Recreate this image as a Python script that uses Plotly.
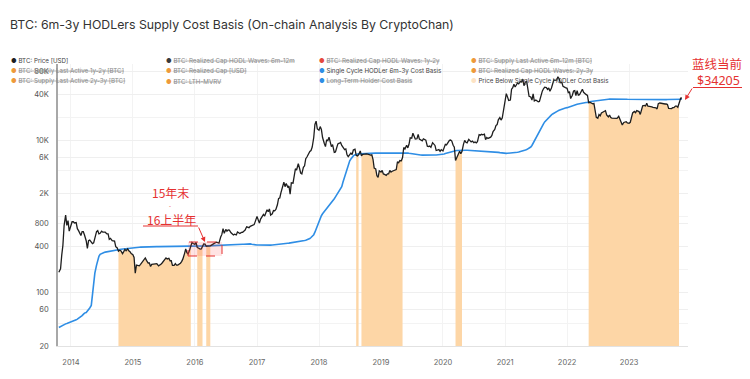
import numpy as np
import pandas as pd
import plotly.graph_objects as go

price_2013 = [185, 205, 310, 420, 760, 1040, 760, 880, 640]
price_2014 = [770, 850, 850, 820, 830, 690, 650, 610, 560, 630, 630, 570,
              480, 380, 480, 490, 450, 440, 450, 520, 630, 650, 590, 600,
              640, 620, 620, 620, 590, 590, 500, 515, 480, 475, 475, 400,
              385, 350, 360, 355, 325, 345, 370, 355, 375, 355, 345, 325]
price_2015 = [315, 290, 180, 230, 225, 225, 235, 245, 260, 275, 285, 265,
              245, 245, 220, 235, 235, 240, 237, 240, 225, 228, 235, 245,
              258, 268, 285, 277, 282, 262, 262, 228, 228, 240, 230, 230,
              237, 243, 255, 275, 325, 375, 335, 322, 362, 395, 455, 440]
price_2016 = [430, 455, 390, 385, 372, 375, 402, 435, 432, 405, 408, 408,
              410, 420, 430, 450, 452, 460, 455, 445, 536, 580, 690, 600,
              675, 640, 665, 660, 610, 590, 570, 585, 572, 625, 608, 595,
              615, 618, 640, 655, 730, 710, 710, 740, 755, 770, 780, 860]
price_2017 = [1000, 900, 820, 920, 990, 1060, 1010, 1120, 1220, 1150, 1250, 1040,
              1080, 1190, 1180, 1230, 1420, 1720, 1740, 2050, 2400, 2800, 2450, 2700,
              2430, 2500, 1950, 2750, 2720, 3400, 4200, 4050, 4900, 4300, 3700, 3600,
              4400, 4600, 5700, 6000, 6700, 7100, 7300, 8100, 10800, 16000, 17700, 14000]
price_2018 = [13500, 15000, 13800, 10800, 9100, 8200, 10100, 9800, 10900, 9400, 8200, 8700,
              6900, 7000, 8000, 8900, 9100, 9300, 8500, 8000, 7500, 7650, 6400, 6050,
              6350, 6750, 6450, 7400, 7600, 6300, 6200, 6400, 7200, 6200, 6500, 6550,
              6550, 6600, 6550, 6450, 6350, 6400, 5600, 4300, 4200, 3400, 3250, 3950]
price_2019 = [3800, 4000, 3600, 3550, 3450, 3600, 3600, 4000, 3800, 3900, 3950, 4000,
              4100, 5200, 5050, 5400, 5350, 5900, 8000, 7650, 8550, 7900, 8800, 10700,
              10600, 12300, 10800, 10300, 10400, 11900, 10300, 10100, 9750, 10400, 10300, 10000,
              8300, 8200, 8350, 8050, 9250, 8800, 8500, 7300, 7400, 7500, 7100, 7500]
price_2020 = [7200, 8050, 8800, 8650, 9400, 9900, 10000, 9700, 8550, 8050, 5400, 5850,
              6650, 7150, 6650, 7100, 8850, 9900, 9350, 9200, 10200, 9750, 9450, 9700,
              9250, 9450, 9200, 9550, 11800, 11600, 11900, 11700, 11950, 10100, 10800, 10500,
              10600, 10900, 11500, 12900, 13750, 15500, 15950, 18400, 19700, 18300, 19400, 23800]
price_2021 = [29400, 40600, 36800, 33000, 33500, 46400, 48600, 54000, 49600, 52300, 56000, 54500,
              58700, 58000, 63100, 51700, 57800, 58800, 46700, 37500, 36700, 33400, 40200, 32500,
              33500, 32800, 31800, 32100, 39900, 43800, 47000, 49300, 48800, 46100, 48100, 43600,
              48200, 53900, 61500, 60700, 61300, 67500, 63600, 56300, 57000, 50600, 48900, 48600]
price_2022 = [47700, 41800, 43100, 35000, 38700, 44000, 44500, 38200, 44400, 38700, 39300, 42400,
              46300, 42300, 40500, 39700, 38500, 31000, 31300, 30300, 29800, 30200, 22500, 19900,
              19300, 21600, 20800, 22600, 23300, 23800, 24300, 21400, 20100, 21300, 19700, 19400,
              19300, 19400, 19100, 19200, 20500, 18500, 16900, 15800, 17000, 17200, 17400, 16800]
price_2023 = [16600, 17100, 20900, 22700, 23700, 22900, 24300, 24200, 23600, 21700, 24700, 28200,
              28500, 28000, 30300, 27800, 27600, 27700, 27200, 26800, 26800, 26500, 25600, 30000,
              30600, 30300, 30300, 29800, 29700, 29800, 29200, 26000, 25800, 25900, 26600, 26600,
              27900, 27900, 26900, 30000, 35400, 35600]

hodler_2013 = [35, 36, 37, 38, 38.5, 39, 39.5, 40, 40.5]
hodler_2014 = [41, 41.5, 42, 43, 44, 45, 46, 47, 48, 50, 52, 54,
               55, 57, 60, 63, 68, 95, 130, 180, 230, 270, 300, 318,
               328, 333, 337, 340, 344, 347, 350, 352, 355, 357, 359, 361,
               363, 366, 368, 370, 373, 375, 377, 379, 381, 383, 385, 387]
hodler_2015 = [389, 390, 391, 392, 393, 394, 395, 396, 396, 397, 397, 398,
               398, 399, 399, 400, 400, 400, 401, 401, 401, 401, 402, 402,
               402, 402, 402, 402, 403, 403, 403, 403, 403, 403, 403, 403,
               403, 403, 403, 404, 404, 404, 404, 404, 404, 404, 404, 404]
hodler_2016 = [404, 405, 405, 406, 406, 407, 407, 408, 409, 410, 411, 412,
               413, 414, 414, 415, 416, 417, 418, 419, 420, 421, 422, 423,
               424, 425, 426, 427, 427, 428, 428, 429, 429, 430, 430, 431,
               431, 432, 432, 433, 434, 436, 438, 436, 430, 426, 424, 423]
hodler_2017 = [422, 421, 420, 420, 419, 419, 418, 418, 418, 418, 419, 420,
               421, 422, 424, 426, 428, 430, 432, 434, 436, 438, 440, 442,
               444, 446, 448, 451, 454, 457, 460, 463, 466, 469, 472, 475,
               478, 482, 486, 492, 500, 512, 528, 548, 575, 620, 680, 760]
hodler_2018 = [900, 960, 1020, 1080, 1150, 1200, 1250, 1310, 1380, 1450, 1520, 1600,
               1700, 1800, 1900, 2000, 2150, 2250, 2450, 2800, 3300, 3800, 4400, 4900,
               5350, 5650, 5950, 6200, 6400, 6520, 6560, 6600, 6630, 6650, 6670, 6690,
               6700, 6710, 6720, 6730, 6740, 6740, 6750, 6750, 6750, 6750, 6750, 6750]
hodler_2019 = [6760, 6770, 6780, 6790, 6800, 6810, 6820, 6830, 6840, 6850, 6860, 6870,
               6880, 6890, 6900, 6900, 6900, 6900, 6890, 6860, 6820, 6770, 6720, 6670,
               6620, 6570, 6520, 6480, 6440, 6410, 6380, 6360, 6340, 6330, 6320, 6310,
               6300, 6300, 6300, 6310, 6320, 6340, 6360, 6380, 6400, 6430, 6460, 6490]
hodler_2020 = [6520, 6580, 6660, 6740, 6820, 6900, 6980, 7050, 7120, 7180, 7240, 7290,
               7330, 7360, 7380, 7400, 7400, 7390, 7370, 7350, 7330, 7310, 7290, 7270,
               7260, 7250, 7240, 7230, 7220, 7210, 7200, 7190, 7180, 7170, 7160, 7150,
               7140, 7120, 7100, 7080, 7050, 7000, 6950, 6900, 6850, 6800, 6760, 6720]
hodler_2021 = [6700, 6700, 6710, 6720, 6740, 6760, 6780, 6800, 6830, 6870, 6920, 6980,
               7050, 7130, 7200, 7260, 7400, 7500, 7650, 7850, 8100, 8500, 9100, 9900,
               10800, 11700, 12600, 13500, 14500, 15400, 16300, 17300, 18300, 19200, 20000, 20700,
               21400, 22000, 22600, 23100, 23600, 24100, 24600, 25000, 25400, 25700, 26000, 26300]
hodler_2022 = [26600, 27000, 27400, 27800, 28200, 28500, 28800, 29100, 29400, 29700, 30000, 30200,
               30400, 30600, 30800, 31000, 31200, 31600, 31800, 32000, 32200, 32400, 32600, 32800,
               33000, 33200, 33400, 33600, 33800, 33950, 34100, 34200, 34300, 34400, 34450, 34500,
               34550, 34600, 34600, 34600, 34600, 34600, 34550, 34500, 34450, 34400, 34350, 34300]
hodler_2023 = [34250, 34200, 34150, 34100, 34050, 34000, 33950, 33900, 33850, 33800, 33780, 33760,
               33750, 33740, 33730, 33720, 33720, 33720, 33730, 33740, 33750, 33770, 33790, 33810,
               33830, 33850, 33870, 33890, 33910, 33930, 33950, 33970, 33990, 34010, 34030, 34050,
               34070, 34090, 34110, 34150, 34180, 34205]

y_tick_vals = [20, 60, 100, 400, 800, 2000, 6000, 10000, 40000, 80000]
y_tick_text = ['20', '60', '100', '400', '800', '2K', '6K', '10K', '40K', '80K']
y_minor_vals = [40, 200, 1000, 4000, 20000]

legend_names = [
    "BTC: Price [USD]", "BTC: Realized Cap HODL Waves: 6m-12m",
    "BTC: Realized Cap HODL Waves: 1y-2y", "BTC: Supply Last Active 6m-12m [BTC]",
    "BTC: Supply Last Active 1y-2y [BTC]", "BTC: Realized Cap [USD]",
    "Single Cycle HODLer 6m-3y Cost Basis", "BTC: Realized Cap HODL Waves: 2y-3y",
    "BTC: Supply Last Active 2y-3y [BTC]", "BTC: LTH-MVRV",
    "Long-Term Holder Cost Basis", "Price Below Single Cycle HODLer Cost Basis",
]
legend_active = [True, False, False, False, False, False, True, False, False, False, False, True]
legend_colors = ['#1e1e1e', '#3a3a3a', '#e5493c', '#ee9a3a', '#ee9a3a', '#ee9a3a',
                 '#2f8ee5', '#ee9a3a', '#ee9a3a', '#ee9a3a', '#2f8ee5', '#fde3c4']

# ---------------- assemble ----------------
price = (price_2013 + price_2014 + price_2015 + price_2016 + price_2017 + price_2018 +
         price_2019 + price_2020 + price_2021 + price_2022 + price_2023)
hodler = (hodler_2013 + hodler_2014 + hodler_2015 + hodler_2016 + hodler_2017 + hodler_2018 +
          hodler_2019 + hodler_2020 + hodler_2021 + hodler_2022 + hodler_2023)

dates = []
y, m = 2013, 10
while (y, m) <= (2023, 11):
    for d in (1, 8, 15, 22):
        t = pd.Timestamp(y, m, d)
        if pd.Timestamp('2013-10-22') <= t <= pd.Timestamp('2023-11-08'):
            dates.append(t)
    m += 1
    if m > 12:
        y, m = y + 1, 1

assert len(dates) == len(price) == len(hodler), (len(dates), len(price), len(hodler))

# contiguous runs where price is below the HODLer cost basis
runs = []
cur = []
for t, p, h in zip(dates, price, hodler):
    if p < h:
        cur.append((t, p))
    elif cur:
        runs.append(cur)
        cur = []
if cur:
    runs.append(cur)

# ---------------- geometry helpers (pixel -> paper) ----------------
W, H = 750, 379
L, R, T, B = 58, 688, 64, 346


def px(x):
    return (x - L) / (R - L)


def py(yy):
    return (B - yy) / (B - T)


ppd = 76.3  # pixels per decade
y_lo = np.log10(20)
y_hi = y_lo + (B - T) / ppd

RED = '#e53030'
FILL = '#fdd6a6'

fig = go.Figure()
for run in runs:
    fig.add_trace(go.Scatter(x=[r[0] for r in run], y=[r[1] for r in run], mode='lines',
                             line=dict(width=0, color=FILL), fill='tozeroy', fillcolor=FILL,
                             name=legend_names[11], hoverinfo='skip'))
fig.add_trace(go.Scatter(x=dates, y=hodler, mode='lines', line=dict(color='#2f8ee5', width=1.6),
                         name=legend_names[6]))
fig.add_trace(go.Scatter(x=dates, y=price, mode='lines', line=dict(color='#1e1e1e', width=1.3),
                         name=legend_names[0]))

annotations = []
shapes = []

# legend (4 columns x 3 rows)
col_x = [10, 165, 318, 470]
row_y = [61, 71, 81]
for i, (name, act, col) in enumerate(zip(legend_names, legend_active, legend_colors)):
    r, c = divmod(i, 4)
    label = name if act else f"<s>{name}</s>"
    tcol = '#444' if act else '#8a8a8a'
    annotations.append(dict(
        x=px(col_x[c]), y=py(row_y[r]), xref='paper', yref='paper', xanchor='left', yanchor='middle',
        showarrow=False, align='left', borderpad=0,
        text=f"<span style='color:{col}'>●</span> <span style='color:{tcol}'>{label}</span>",
        font=dict(family='Inter, Roboto, sans-serif', size=6.2, color=tcol)))

# left callout
cjk = 'Noto Sans CJK SC'
annotations += [
    dict(x=px(170), y=py(192), xref='paper', yref='paper', text='15年末', showarrow=False,
         borderpad=0, font=dict(family=cjk, size=12, color=RED),
         xanchor='center', yanchor='middle'),
    dict(x=px(170), y=py(205.5), xref='paper', yref='paper', text='-', showarrow=False,
         borderpad=0, font=dict(family='Noto Sans, sans-serif', size=6, color=RED),
         xanchor='center', yanchor='middle'),
    dict(x=px(171), y=py(219), xref='paper', yref='paper', text='16上半年', showarrow=False,
         borderpad=0, font=dict(family=cjk, size=12, color=RED),
         xanchor='center', yanchor='middle'),
    dict(x=px(205), y=py(242), xref='paper', yref='paper', text='', showarrow=True,
         ax=-7, ay=-16, arrowhead=2, arrowsize=1, arrowwidth=1, arrowcolor=RED),
]
shapes += [
    dict(type='line', xref='paper', yref='paper', x0=px(143), x1=px(198), y0=py(226), y1=py(226),
         line=dict(color=RED, width=1)),
    dict(type='rect', xref='paper', yref='paper', x0=px(188), x1=px(222), y0=py(256), y1=py(242),
         line=dict(color=RED, width=1, dash='dash'), fillcolor='rgba(255,70,70,0.15)', layer='above'),
]

# right callout
annotations += [
    dict(x=px(717), y=py(63), xref='paper', yref='paper', text='蓝线当前', showarrow=False,
         borderpad=0, height=16, font=dict(family=cjk, size=12.5, color=RED),
         xanchor='center', yanchor='middle'),
    dict(x=px(718), y=py(80), xref='paper', yref='paper', text=f"${hodler[-1]}", showarrow=False,
         borderpad=0, height=16, font=dict(family='Noto Sans, sans-serif', size=12.5, color=RED),
         xanchor='center', yanchor='middle'),
    dict(x=px(685), y=py(100), xref='paper', yref='paper', text='', showarrow=True,
         ax=8, ay=-13, arrowhead=2, arrowsize=1, arrowwidth=1, arrowcolor=RED),
]
shapes += [
    dict(type='line', xref='paper', yref='paper', x0=px(693), x1=px(742), y0=py(87.5), y1=py(87.5),
         line=dict(color=RED, width=1)),
]

fig.update_layout(
    width=W, height=H,
    margin=dict(l=L, r=W - R, t=T, b=H - B, pad=0),
    paper_bgcolor='white', plot_bgcolor='white',
    showlegend=False, hovermode=False,
    title=dict(text='BTC: 6m-3y HODLers Supply Cost Basis (On-chain Analysis By CryptoChan)',
               x=10 / W, xanchor='left', xref='container', y=1 - 25 / H, yanchor='middle', yref='container',
               font=dict(family='Inter, Roboto, sans-serif', size=12.3, color='#333')),
    annotations=annotations, shapes=shapes,
    xaxis=dict(type='date', range=['2013-10-17', '2023-12-14'], tick0='2014-01-01', dtick='M12',
               tickformat='%Y', showgrid=True, gridcolor='#f3f3f3', gridwidth=1,
               showline=True, linecolor='#e2e2e2', linewidth=1, zeroline=False,
               ticks='outside', ticklen=9, tickcolor='rgba(0,0,0,0)',
               tickfont=dict(family='Inter, Roboto, sans-serif', size=7.5, color='#666')),
    yaxis=dict(type='log', range=[y_lo, y_hi], tickmode='array', tickvals=y_tick_vals,
               ticktext=y_tick_text, showgrid=True, gridcolor='#efefef', gridwidth=1,
               showline=True, linecolor='#a8a8a8', linewidth=1.5, zeroline=False,
               ticks='outside', ticklen=6, tickcolor='rgba(0,0,0,0)',
               tickfont=dict(family='Inter, Roboto, sans-serif', size=7.5, color='#555'),
               minor=dict(tickmode='array', tickvals=y_minor_vals, showgrid=True,
                          gridcolor='#f3f3f3', ticks='')),
)
fig.update_xaxes(fixedrange=True)
fig.update_yaxes(fixedrange=True)

fig.write_html('out.html', config={'displayModeBar': False},
               post_script="document.body.style.margin='0';document.body.style.padding='0';")
